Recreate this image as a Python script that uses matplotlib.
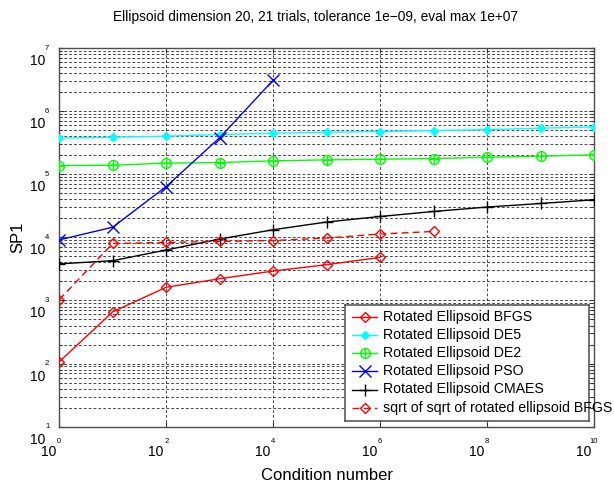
import matplotlib
matplotlib.use("Agg")
import matplotlib.pyplot as plt
from matplotlib.transforms import offset_copy, blended_transform_factory
from matplotlib.ticker import FixedLocator, NullLocator, LogLocator, NullFormatter

plt.rcParams['font.family'] = ['Liberation Sans', 'DejaVu Sans']

# ---- data ----
cond = [1e0, 1e1, 1e2, 1e3, 1e4, 1e5, 1e6, 1e7, 1e8, 1e9, 1e10]
bfgs = [107, 661, 1620, 2210, 2930, 3690, 4810]
de5 = [372000, 386000, 401000, 425000, 447000, 463000, 474000, 492000, 509000, 536000, 562000]
de2 = [137000, 139000, 150000, 153000, 163000, 169000, 173000, 177000, 186000, 193000, 203000]
pso = [9120, 14500, 63800, 380000, 3090000]
cmaes = [3800, 4270, 6310, 9400, 13200, 17500, 21400, 25700, 30200, 34400, 39400]
sqrt_bfgs = [1030, 8000, 8300, 8610, 8910, 9750, 11300, 12400]

labels = ["Rotated Ellipsoid BFGS", "Rotated Ellipsoid DE5", "Rotated Ellipsoid DE2",
          "Rotated Ellipsoid PSO", "Rotated Ellipsoid CMAES",
          "sqrt of sqrt of rotated ellipsoid BFGS"]

x_tick_vals = [1e0, 1e2, 1e4, 1e6, 1e8, 1e10]
x_tick_exps = ['0', '2', '4', '6', '8', '10']
y_tick_vals = [1e1, 1e2, 1e3, 1e4, 1e5, 1e6, 1e7]
y_tick_exps = ['1', '2', '3', '4', '5', '6', '7']

title = "Ellipsoid dimension 20, 21 trials, tolerance 1e\u221209, eval max 1e+07"

# ---- figure ----
W, H = 614, 486
fig = plt.figure(figsize=(W / 100, H / 100), dpi=100)
L, R, B, T = 59.3, 594.0, 426.7, 48.0
ax = fig.add_axes([L / W, 1 - B / H, (R - L) / W, (B - T) / H])
ax.set_xscale('log')
ax.set_yscale('log')
ax.set_xlim(1e0, 1e10)
ax.set_ylim(1e1, 1e7)

GREEN = '#00ff00'
styles = [
    dict(color='red', marker='D', ms=5, mfc='none', mew=1.0, lw=1.0, ls='-'),
    dict(color='cyan', marker='D', ms=4.2, mfc='cyan', mew=1.0, lw=1.0, ls='-'),
    dict(color=GREEN, marker='o', ms=7, mfc='none', mew=1.0, lw=1.0, ls='-'),
    dict(color='blue', marker='x', ms=8.5, mew=1.0, lw=1.0, ls='-'),
    dict(color='black', marker='+', ms=8, mew=1.0, lw=1.0, ls='-'),
    dict(color='red', marker='D', ms=5, mfc='none', mew=1.0, lw=1.0, ls=(0, (5, 3))),
]
series = [(cond[:len(bfgs)], bfgs), (cond, de5), (cond, de2),
          (cond[:len(pso)], pso), (cond, cmaes), (cond[:len(sqrt_bfgs)], sqrt_bfgs)]

for (xs, ys), st in zip(series, styles):
    ax.plot(xs, ys, zorder=3, **st)
# plus inside DE2 circles
ax.plot(cond, de2, ls='none', marker='+', ms=7, mew=1.0, color=GREEN, zorder=3)

# ---- ticks & grid ----
ax.xaxis.set_major_locator(FixedLocator(x_tick_vals))
ax.xaxis.set_minor_locator(NullLocator())
ax.yaxis.set_major_locator(FixedLocator(y_tick_vals))
ax.yaxis.set_minor_locator(LogLocator(base=10, subs=[2, 3, 4, 5, 6, 7, 8, 9], numticks=20))
ax.xaxis.set_major_formatter(NullFormatter())
ax.yaxis.set_major_formatter(NullFormatter())
ax.yaxis.set_minor_formatter(NullFormatter())
ax.tick_params(which='both', direction='in', top=True, right=True, width=0.8, color='0.2')
ax.tick_params(which='major', length=3.8)
ax.tick_params(which='minor', length=2.2)
grid_kw = dict(color='black', lw=0.5, ls=(0, (4, 3)))
ax.grid(True, which='major', axis='both', **grid_kw)
ax.grid(True, which='minor', axis='y', **grid_kw)
for s in ax.spines.values():
    s.set_color('0.3')
    s.set_linewidth(1.0)

# custom MATLAB-like tick labels
px = 0.72
ytr = blended_transform_factory(ax.transAxes, ax.transData)
for v, e in zip(y_tick_vals, y_tick_exps):
    ax.text(0, v, '10', transform=offset_copy(ytr, fig, x=-14 * px, y=-13 * px, units='points'),
            ha='right', va='center', fontsize=10)
    ax.text(0, v, e, transform=offset_copy(ytr, fig, x=-10 * px, y=0, units='points'),
            ha='right', va='center', fontsize=5.5)
xtr = blended_transform_factory(ax.transData, ax.transAxes)
for v, e in zip(x_tick_vals, x_tick_exps):
    ax.text(v, 0, e, transform=offset_copy(xtr, fig, x=0, y=-14.5 * px, units='points'),
            ha='center', va='center', fontsize=5.5)
    ax.text(v, 0, '10', transform=offset_copy(xtr, fig, x=-3 * px, y=-25.5 * px, units='points'),
            ha='right', va='center', fontsize=10)

fig.text(0.5 * (L + R) / W, 1 - 475.5 / H, "Condition number", ha='center', va='center', fontsize=12)
fig.text(18 / W, 1 - 0.5 * (T + B) / H, "SP1", ha='center', va='center', fontsize=12, rotation=90)
fig.text(316 / W, 1 - 16.5 / H, title, ha='center', va='center', fontsize=9.9)

# ---- legend (MATLAB style box) ----
lx0, lx1, ly0, ly1 = 344.7, 589.0, 305.0, 421.0
lax = fig.add_axes([lx0 / W, 1 - ly1 / H, (lx1 - lx0) / W, (ly1 - ly0) / H])
lax.set_xlim(0, lx1 - lx0)
lax.set_ylim(ly1 - ly0, 0)
lax.set_xticks([])
lax.set_yticks([])
for s in lax.spines.values():
    s.set_color('0.3')
    s.set_linewidth(1.1)
for i, (lab, st) in enumerate(zip(labels, styles)):
    yy = 11.7 + i * 18.2
    st2 = dict(st)
    mk = st2.pop('marker')
    ms = st2.pop('ms')
    mfc = st2.pop('mfc', None)
    lax.plot([7.3, 32.3], [yy, yy], color=st2['color'], lw=st2['lw'], ls=st2['ls'])
    kw = dict(marker=mk, ms=ms, mew=st2.get('mew', 1.0), color=st2['color'], ls='none')
    if mfc is not None:
        kw['mfc'] = mfc
    lax.plot([19.8], [yy], **kw)
    if i == 2:
        lax.plot([19.8], [yy], marker='+', ms=7, mew=1.0, color=st2['color'], ls='none')
    lax.text(38.6, yy, lab, ha='left', va='center', fontsize=10.2, clip_on=False)

fig.savefig("out.png", dpi=100)
